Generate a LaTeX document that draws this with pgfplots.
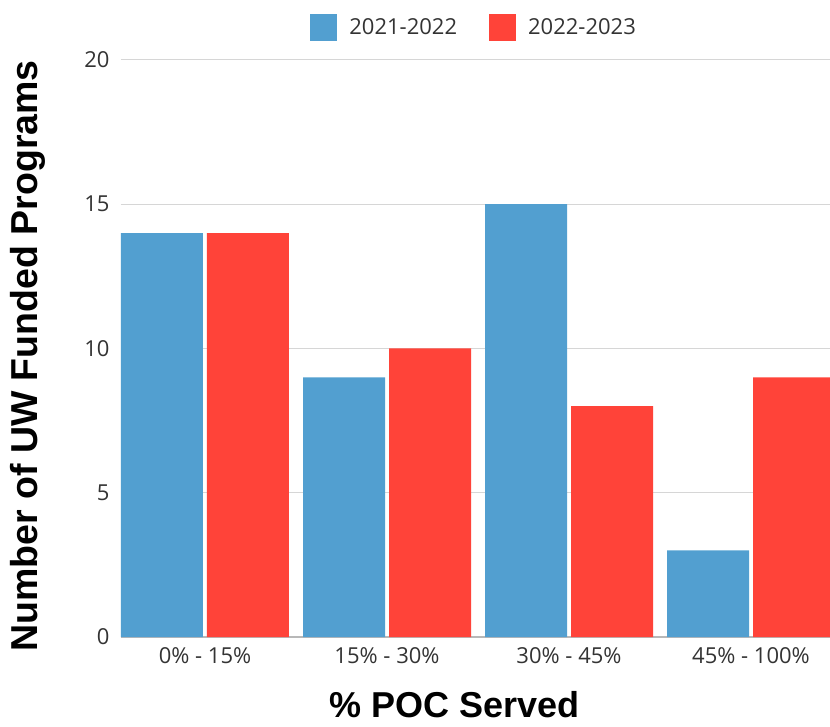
\documentclass[border=0pt]{standalone}
\usepackage{fontspec}
\setmainfont{Open Sans}
\newfontfamily\titlefont{Liberation Sans}
\usepackage{pgfplots}
\pgfplotsset{compat=1.18}
\definecolor{cblue}{HTML}{529FD0}
\definecolor{cred}{HTML}{FF4339}
\definecolor{gridgray}{HTML}{D6D6D6}
\definecolor{axgray}{HTML}{B8B8B8}
\definecolor{txtgray}{HTML}{333333}
\begin{document}
\begin{tikzpicture}
\begin{axis}[
  scale only axis, width=709pt, height=577pt,
  xmin=-0.4615, xmax=3.434, ymin=0, ymax=20,
  ybar=4pt, bar width=82pt,
  xtick={0,1,2,3},
  xticklabels={0\% - 15\%,15\% - 30\%,30\% - 45\%,45\% - 100\%},
  ytick={0,5,10,15,20},
  ymajorgrids, grid style={color=gridgray, line width=1pt},
  axis x line*=bottom, axis y line*=left,
  x axis line style={color=axgray, line width=1.2pt, -},
  y axis line style={draw=none},
  major tick length=0pt,
  tick style={draw=none},
  /pgf/number format/assume math mode=true,
  tick label style={font=\fontsize{22}{26}\selectfont, text=txtgray},
  xticklabel style={yshift=-7pt},
  yticklabel style={xshift=-8pt},
  xlabel={\titlefont\bfseries \% POC Served},
  ylabel={\titlefont\bfseries Number of UW Funded Programs},
  xlabel style={at={(axis description cs:0.471,-0.117)}, anchor=center, font=\fontsize{36}{40}\selectfont},
  ylabel style={at={(axis description cs:-0.131,0.487)}, anchor=center, font=\fontsize{37.5}{40}\selectfont},
  legend style={at={(0.498,1.057)}, anchor=center, draw=none, fill=none,
    legend columns=2, font=\fontsize{22}{26}\selectfont, text=txtgray,
    /tikz/every odd column/.append style={column sep=2pt},
    /tikz/every even column/.append style={column sep=30pt}},
  clip=true,
]
\addplot[fill=cblue, draw=none, legend image code/.code={\fill[cblue] (0pt,-13.5pt) rectangle (27pt,13.5pt);}] coordinates {(0,14) (1,9) (2,15) (3,3)};
\addplot[fill=cred, draw=none, legend image code/.code={\fill[cred] (0pt,-13.5pt) rectangle (27pt,13.5pt);}] coordinates {(0,14) (1,10) (2,8) (3,9)};
\legend{\hspace{8pt}2021-2022, \hspace{8pt}2022-2023}
\end{axis}
\pgfresetboundingbox
\path[use as bounding box] ([shift={(-121pt,-89pt)}]current axis.south west) rectangle ([shift={(0pt,60pt)}]current axis.north east);
\end{tikzpicture}
\end{document}
